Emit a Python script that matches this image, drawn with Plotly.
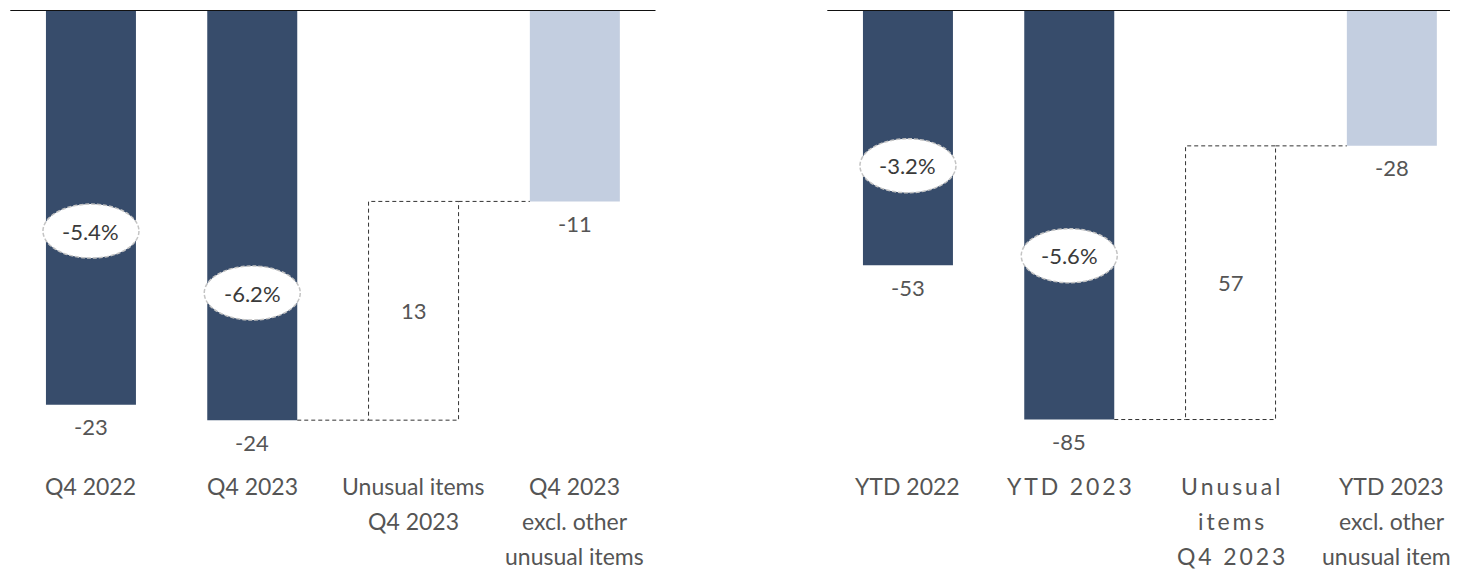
import plotly.graph_objects as go

# ---------------- data ----------------
left_categories = ["Q4 2022", "Q4 2023", "Unusual items\nQ4 2023", "Q4 2023\nexcl. other\nunusual items"]
left_values = [-23.1, -24.0, 12.8, -11.2]
left_pct = ["-5.4%", "-6.2%"]

TS = "\u2009"  # thin space used to mimic the letter-spaced labels of the right panel
right_categories = ["YTD 2022", TS.join("YTD 2023"), TS.join("Unusual") + "\n" + TS.join("items") + "\n" + TS.join("Q4 2023"),
                    "YTD 2023\nexcl. other\nunusual items"]
right_values = [-53.0, -85.0, 56.8, -28.2]
right_pct = ["-3.2%", "-5.6%"]

# ---------------- style / layout config ----------------
OFF = 8                  # page body margin
PAGE_W, PAGE_H = 1458, 569
W, H = PAGE_W - OFF, PAGE_H - OFF
TOP = 2
CAT_W = 161.3            # px per category
BAR_W = 90 / CAT_W       # bar width in category units
DARK = "#374C6B"
LIGHT = "#C3CEE0"
TXT = "#555555"
PCT_TXT = "#3a3a3a"
FONT = "Lato"

panels = [
    dict(cats=left_categories, vals=left_values, pct=left_pct, pct_frac=[0.56, 0.69],
         xa="x", ya="y", x0px=10.3 - OFF, x1px=655.5 - OFF, ppu=17.09),
    dict(cats=right_categories, vals=right_values, pct=right_pct, pct_frac=[0.61, 0.60],
         xa="x2", ya="y2", x0px=827.3 - OFF, x1px=W, ppu=4.818),
]

fig = go.Figure()
shapes = []
annotations = []
plot_h = H - TOP

for p in panels:
    xa, ya = p["xa"], p["ya"]
    v = p["vals"]
    # solid bars
    fig.add_trace(go.Bar(x=[0, 1], y=v[:2], width=BAR_W, marker=dict(color=DARK, line=dict(width=0)),
                         xaxis=xa, yaxis=ya, hoverinfo="skip"))
    fig.add_trace(go.Bar(x=[3], y=[v[3]], width=BAR_W, marker=dict(color=LIGHT, line=dict(width=0)),
                         xaxis=xa, yaxis=ya, hoverinfo="skip"))
    hw = BAR_W / 2
    start = v[1]
    end = v[1] + v[2]
    dash_line = dict(color="#333333", width=1, dash="4px,3px")
    # dashed box for unusual items
    shapes.append(dict(type="rect", xref=xa, yref=ya, x0=2 - hw, x1=2 + hw, y0=start, y1=end,
                       line=dash_line, fillcolor="rgba(0,0,0,0)", layer="above"))
    # connectors
    shapes.append(dict(type="line", xref=xa, yref=ya, x0=1 + hw, x1=2 - hw, y0=start, y1=start, line=dash_line))
    shapes.append(dict(type="line", xref=xa, yref=ya, x0=2 + hw, x1=3 - hw, y0=end, y1=end, line=dash_line))
    # top baseline
    shapes.append(dict(type="line", xref=f"{xa} domain", yref=ya, x0=0, x1=1, y0=0, y1=0,
                       line=dict(color="#111111", width=2)))
    # value labels
    for i in [0, 1, 3]:
        annotations.append(dict(x=i, y=v[i], xref=xa, yref=ya, text=f"{v[i]:.0f}", showarrow=False,
                                yshift=-22, yanchor="middle", font=dict(family=FONT, size=22, color=TXT)))
    annotations.append(dict(x=2, y=start + v[2] / 2, xref=xa, yref=ya, text=f"{v[2]:.0f}", showarrow=False,
                            yanchor="middle", font=dict(family=FONT, size=22, color=TXT)))
    # percentage bubbles
    for i, (t, f) in enumerate(zip(p["pct"], p["pct_frac"])):
        yc = v[i] * f
        shapes.append(dict(type="circle", xref=xa, yref=ya, xsizemode="pixel", ysizemode="pixel",
                           xanchor=i, yanchor=yc, x0=-48, x1=48, y0=-27, y1=27,
                           fillcolor="white", line=dict(color="#c4c4c4", width=1.5, dash="4px,2px"),
                           layer="above"))
        annotations.append(dict(x=i, y=yc, xref=xa, yref=ya, text=t, showarrow=False, yanchor="middle",
                                font=dict(family=FONT, size=22, color=PCT_TXT)))
    # category labels
    for i, c in enumerate(p["cats"]):
        for j, line in enumerate(c.split("\n")):
            annotations.append(dict(x=i, y=0, xref=xa, yref="paper", text=line, showarrow=False,
                                    yanchor="middle", yshift=(PAGE_H - 486) - 35 * j,
                                    font=dict(family=FONT, size=23, color=TXT)))

layout_axes = {}
for k, p in enumerate(panels):
    sfx = "" if k == 0 else "2"
    span = (p["x1px"] - p["x0px"]) / CAT_W
    layout_axes[f"xaxis{sfx}"] = dict(domain=[p["x0px"] / W, p["x1px"] / W], range=[-0.5, -0.5 + span],
                                       visible=False, fixedrange=True, anchor=f"y{sfx}")
    layout_axes[f"yaxis{sfx}"] = dict(domain=[0, 1], range=[-plot_h / p["ppu"], 0],
                                       visible=False, fixedrange=True, anchor=f"x{sfx}")

fig.update_layout(
    width=W, height=H,
    margin=dict(l=0, r=0, t=TOP, b=0),
    paper_bgcolor="white", plot_bgcolor="white",
    showlegend=False, barmode="overlay",
    shapes=shapes, annotations=annotations,
    **layout_axes,
)

fig.write_html("out.html", config={"displayModeBar": False})
